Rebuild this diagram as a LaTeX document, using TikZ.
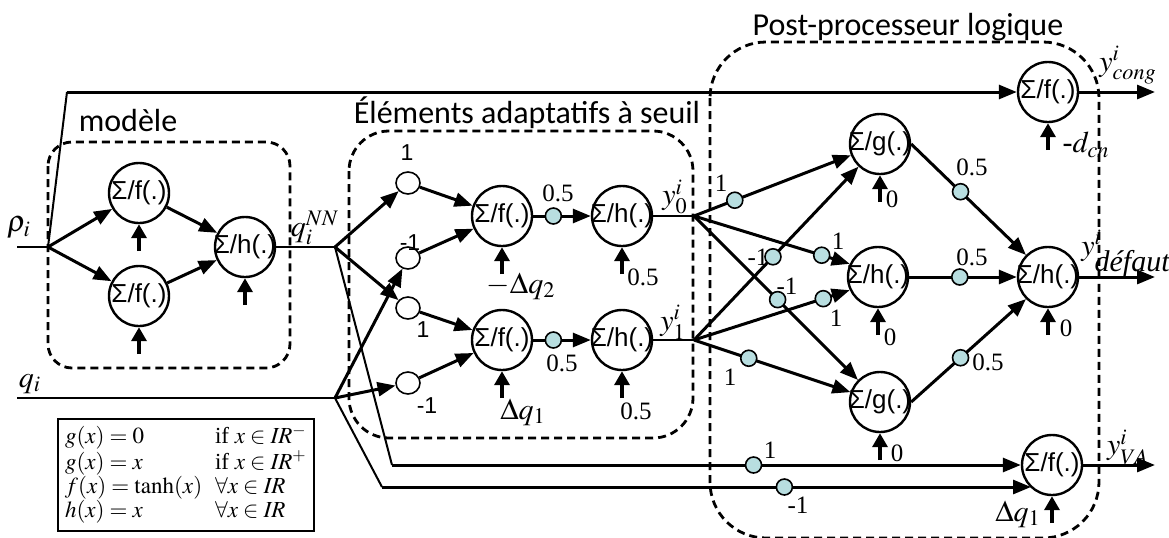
\documentclass[tikz,border=0pt]{standalone}
\usepackage{mathptmx}
\usepackage{fontspec}
\setmainfont{Liberation Serif}
\newfontfamily\arialfont{Liberation Sans}
\newfontfamily\calfont{Carlito}
\usetikzlibrary{positioning, calc, arrows.meta, shapes.geometric}
\definecolor{dotblue}{RGB}{184,222,224}
\newcommand{\sig}[1]{\makebox[0pt]{Σ/#1(.)}}

\tikzset{
  neuron/.style={draw, circle, line width=1.2pt, minimum size=30pt, inner sep=0pt,
    font=\arialfont\fontsize{13}{13}\selectfont},
  inp/.style={draw, ellipse, line width=0.8pt, minimum width=12pt, minimum height=11pt, inner sep=0pt},
  wdot/.style={draw, circle, fill=dotblue, line width=0.8pt, minimum size=8pt, inner sep=0pt},
  conn/.style={line width=1.5pt, -{Triangle[length=9pt, width=7pt]}},
  wire/.style={line width=1pt},
  bias/.style={line width=1.8pt, -{Triangle[length=7pt, width=7.5pt]}},
  zone/.style={line width=1.4pt, dash pattern=on 4pt off 2.5pt},
  wt/.style={font=\fontsize{12.5}{12.5}\selectfont, inner sep=1pt},
  awt/.style={font=\arialfont\fontsize{11.5}{11.5}\selectfont, inner sep=1pt},
  title/.style={font=\calfont\fontsize{16}{16}\selectfont, inner sep=1pt},
  sym/.style={font=\fontsize{15}{15}\selectfont, inner sep=1pt}
}

\begin{document}
\begin{tikzpicture}[x=0.5pt, y=-0.5pt]
\useasboundingbox (0,0) rectangle (1169,537);

% zones
\draw[zone, rounded corners=12pt] (48,142) rectangle (290,368);
\draw[zone, rounded corners=20pt] (349,131) rectangle (693,438);
\draw[zone, rounded corners=28pt] (710,42) rectangle (1099,538);
\node[title] (tmod) at (128,120) {modèle};
\node[title] (tel) at (527,113) {Éléments adaptatifs à seuil};
\node[title] (tpp) at (908,27) {Post-processeur logique};

% neurons
\node[neuron] (m1) at (139,193) {\sig{f}};
\node[neuron] (m2) at (139,296) {\sig{f}};
\node[neuron] (m3) at (245,247) {\sig{h}};
\node[neuron] (e1) at (502,216) {\sig{f}};
\node[neuron] (e2) at (622,216) {\sig{h}};
\node[neuron] (e3) at (502,340) {\sig{f}};
\node[neuron] (e4) at (622,340) {\sig{h}};
\node[neuron] (g1) at (880,144) {\sig{g}};
\node[neuron] (hm) at (878,277) {\sig{h}};
\node[neuron] (g2) at (880,402) {\sig{g}};
\node[neuron] (hr) at (1048,277) {\sig{h}};
\node[neuron] (cg) at (1048,92) {\sig{f}};
\node[neuron] (va) at (1052,465) {\sig{f}};

\node[inp] (c1) at (408,183) {};
\node[inp] (c2) at (408,258) {};
\node[inp] (c3) at (408,308) {};
\node[inp] (c4) at (408,383) {};

% branch points
\coordinate (rin) at (17,247);
\coordinate (rb) at (48,247);
\coordinate (rtop) at (67,92);
\coordinate (nnb) at (335,247);
\coordinate (qin) at (17,398);
\coordinate (qb) at (335,398);
\coordinate (nnlow) at (392,465);
\coordinate (qlow) at (382,487);
\coordinate (b0) at (694,216);
\coordinate (b1) at (694,340);
\coordinate (ocg) at (1155,92);
\coordinate (ohr) at (1155,277);
\coordinate (ova) at (1155,465);
\coordinate (vain) at ($(va)+(-21,22)$);

% model
\draw[wire] (rin) -- (rb);
\draw[conn] (rb) -- (m1);
\draw[conn] (rb) -- (m2);
\draw[wire] (rb) -- (rtop);
\draw[conn] (rtop) -- (cg);
\draw[conn] (m1) -- (m3);
\draw[conn] (m2) -- (m3);
\draw[wire] (m3) -- (nnb);

% threshold elements
\draw[conn] (nnb) -- (c1);
\draw[conn] (nnb) -- (c3);
\draw[wire] (qin) -- (qb);
\draw[conn] (qb) -- (c2);
\draw[conn] (qb) -- (c4);
\draw[conn] (c1) -- (e1);
\draw[conn] (c2) -- (e1);
\draw[conn] (c3) -- (e3);
\draw[conn] (c4) -- (e3);
\draw[conn] (e1) -- node[wdot, pos=0.35] (d1) {} (e2);
\draw[conn] (e3) -- node[wdot, pos=0.35] (d2) {} (e4);
\draw[wire] (e2) -- (b0);
\draw[wire] (e4) -- (b1);

% bypass to VA
\draw[wire] (nnb) -- (nnlow);
\draw[conn] (nnlow) -- node[wdot, pos=0.575] (d3) {} (va);
\draw[wire] (qb) -- (qlow);
\draw[conn] (qlow) -- node[wdot, pos=0.62] (d4) {} (vain);

% post-processor
\draw[conn] (b0) -- node[wdot, pos=0.26] (p1) {} (g1);
\draw[conn] (b0) -- node[wdot, pos=0.82] (p2) {} (hm.155);
\draw[conn] (b0) -- node[wdot, pos=0.51] (p3) {} (g2);
\draw[conn] (b1) -- node[wdot, pos=0.48] (p4) {} (g1);
\draw[conn] (b1) -- node[wdot, pos=0.83] (p5) {} (hm.205);
\draw[conn] (b1) -- node[wdot, pos=0.35] (p6) {} (g2);
\draw[conn] (g1.east) -- node[wdot, pos=0.43] (p7) {} (hr.north west);
\draw[conn] (hm) -- node[wdot, pos=0.47] (p8) {} (hr);
\draw[conn] (g2.east) -- node[wdot, pos=0.43] (p9) {} (hr.south west);
\draw[conn] (cg) -- (ocg);
\draw[conn] (hr) -- (ohr);
\draw[conn] (va) -- (ova);

% bias inputs
\foreach \n in {m1,m2,m3,e1,e2,e3,e4,g1,hm,g2,hr,cg,va}{
  \coordinate (\n-in) at ($(\n.south)+(0,27)$);
  \draw[bias] (\n-in) -- (\n.south);
}

% labels
\node[sym] (lrho) at (19,228) {$\rho_i$};
\node[sym] (lq) at (30,384) {$q_i$};
\node[sym] (lnn) at (315,228) {$q_i^{NN}$};
\node[awt] (lc1) at (407,153) {1};
\node[awt] (lc2) at (410,243) {-1};
\node[awt] (lc3) at (423,330) {1};
\node[awt] (lc4) at (427,406) {-1};
\node[wt] (ld1) at (558,193) {0.5};
\node[wt] (ld2) at (562,363) {0.5};
\node[sym] (le1) at (521,286) {$-\Delta q_2$};
\node[sym] (le3) at (523,412) {$\Delta q_1$};
\node[wt] (le2) at (643,277) {0.5};
\node[wt] (le4) at (636,411) {0.5};
\node[sym] (ly0) at (675,197) {$y_0^i$};
\node[sym] (ly1) at (673,322) {$y_1^i$};
\node[wt] (lp1) at (721,183) {1};
\node[wt] (lp2) at (838,241) {1};
\node[wt] (lp3) at (787,286) {-1};
\node[wt] (lp4) at (758,257) {-1};
\node[wt] (lp5) at (836,318) {1};
\node[wt] (lp6) at (730,377) {1};
\node[wt] (lp7) at (972,167) {0.5};
\node[wt] (lp8) at (972,257) {0.5};
\node[wt] (lp9) at (988,362) {0.5};
\node[wt] (lg1) at (892,199) {0};
\node[wt] (lhm) at (890,337) {0};
\node[wt] (lg2) at (897,453) {0};
\node[wt] (lhr) at (1066,328) {0};
\node[wt] (ld3) at (770,450) {1};
\node[wt] (ld4) at (798,505) {-1};
\node[sym] (lcg) at (1086,145) {\textit{-}$d_{cn}$};
\node[sym] (lva) at (1018,514) {$\Delta q_1$};
\node[sym] (ocgl) at (1128,65) {$y_{cong}^i$};
\node[sym] (ohrl) at (1126,254) {$y_{\textit{défaut}}^i$};
\node[sym] (oval) at (1128,447) {$y_{VA}^i$};

% legend
\node[draw, line width=0.8pt, anchor=north west, inner sep=2.5pt, minimum width=128pt,
  minimum height=56pt, font=\fontsize{11.5}{11.6}\selectfont] (legend) at (57,418) {%
  \begin{tabular}{@{}p{75pt}@{}l@{}}
  $g(x)=0$ & if $x\in \mathit{IR}^-$\\
  $g(x)=x$ & if $x\in \mathit{IR}^+$\\
  $f(x)=\tanh(x)$ & $\forall x\in \mathit{IR}$\\
  $h(x)=x$ & $\forall x\in \mathit{IR}$
  \end{tabular}};
\end{tikzpicture}
\end{document}
